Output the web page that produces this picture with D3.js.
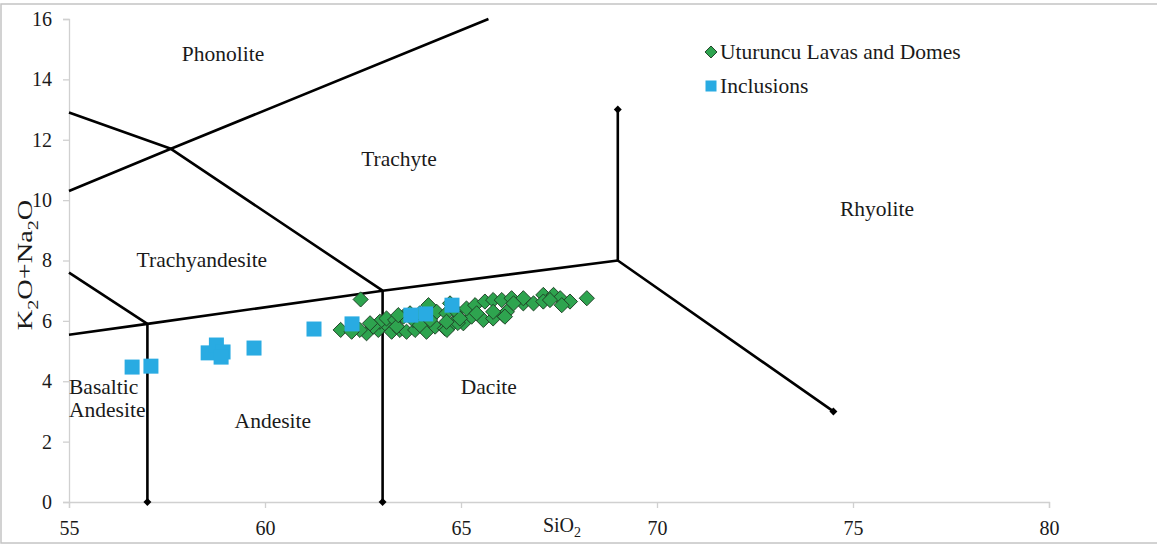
<!DOCTYPE html>
<html>
<head>
<meta charset="utf-8">
<script src="https://cdn.jsdelivr.net/npm/d3@7"></script>
<style>
  body { margin: 0; background: #fff; }
  svg text { font-family: "Liberation Serif", "Times New Roman", serif; fill: #1a1a1a; }
  .axis path, .axis line { stroke: #d0d0d0; stroke-width: 1.3; }
</style>
</head>
<body>
<div id="chart"></div>
<script>
// SiO2 vs K2O+Na2O, Uturuncu samples
var lavas = [
  [61.93, 5.70], [62.59, 5.59], [62.89, 5.70], [63.06, 5.92], [63.23, 5.64], [63.44, 5.70],
  [63.61, 5.64], [63.83, 5.70], [64.12, 5.64], [64.34, 5.81], [64.59, 5.75], [64.80, 5.92],
  [65.06, 5.92], [65.27, 6.14], [65.57, 6.03], [65.82, 6.08], [66.08, 6.19], [66.17, 6.30],
  [62.93, 5.97], [63.10, 6.08], [63.32, 6.03], [63.53, 6.14], [64.17, 6.52], [64.38, 6.30],
  [64.63, 6.25], [64.89, 6.30], [65.14, 6.41], [65.36, 6.52], [65.61, 6.64], [65.82, 6.69],
  [66.04, 6.69], [66.29, 6.75], [66.59, 6.58], [66.85, 6.58], [67.10, 6.86], [67.36, 6.86],
  [67.53, 6.75], [67.78, 6.64], [68.21, 6.75], [67.57, 6.52], [67.10, 6.64], [66.12, 6.14],
  [65.82, 6.30], [65.40, 6.25], [64.92, 5.93], [64.64, 5.70], [63.78, 6.03], [63.95, 5.86],
  [63.36, 5.81], [62.76, 5.81], [62.42, 5.70], [62.21, 5.64], [64.97, 6.08], [64.63, 5.97],
  [64.21, 6.03], [63.95, 6.25], [63.70, 6.25], [63.40, 6.19], [62.68, 5.92], [64.72, 6.58],
  [66.59, 6.75], [66.34, 6.58], [67.27, 6.69], [62.44, 6.71]
];
var inclusions = [
  [56.61, 4.47], [57.09, 4.50], [58.55, 4.94], [58.76, 5.20], [58.93, 4.97], [58.88, 4.80],
  [59.72, 5.10], [61.25, 5.73], [62.22, 5.90], [63.72, 6.19], [64.10, 6.23], [64.77, 6.52]
];

// TAS field boundaries
var tasLines = [
  [[55, 5.54], [57, 5.9], [63, 7], [69, 8]],
  [[57, 0], [57, 5.9]],
  [[63, 0], [63, 7]],
  [[69, 13], [69, 8], [74.5, 3]],
  [[55, 7.6], [57, 5.9]],
  [[55, 12.9], [57.6, 11.7], [63, 7]],
  [[55, 10.3], [57.6, 11.7], [65.7, 16]]
];
var tasEnds = [[57, 0], [63, 0], [69, 13], [74.5, 3]];

var fieldNames = ["Phonolite", "Trachyte", "Rhyolite", "Trachyandesite", "Basaltic", "Andesite", "Andesite", "Dacite"];
var fieldAt = [[58.93, 14.84], [63.42, 11.36], [75.61, 9.7], [58.39, 8.02], [55, 3.81], [55, 3.05], [60.2, 2.68], [65.71, 3.81]];

var xTicks = [55, 60, 65, 70, 75, 80];
var yTicks = [0, 2, 4, 6, 8, 10, 12, 14, 16];

var W = 1157, H = 548;
var margin = { top: 19, right: 108, bottom: 46, left: 69 },
    width = W - margin.left - margin.right,
    height = H - margin.top - margin.bottom;

var svg = d3.select("#chart").append("svg")
  .attr("width", W)
  .attr("height", H);

// outer frame
svg.append("rect")
  .attr("x", 1).attr("y", 4)
  .attr("width", W + 10).attr("height", 539)
  .attr("fill", "none").attr("stroke", "#c4c4c4").attr("stroke-width", 1.5);

var g = svg.append("g")
  .attr("transform", "translate(" + margin.left + "," + margin.top + ")");

var x = d3.scaleLinear().domain([55, 80]).range([0, width]);
var y = d3.scaleLinear().domain([0, 16]).range([height, 0]);

var xAxisG = g.append("g")
  .attr("class", "x axis")
  .attr("transform", "translate(0," + height + ")")
  .call(d3.axisBottom(x).tickValues(xTicks).tickSize(6).tickPadding(10));
xAxisG.selectAll("text").attr("dy", "0.85em");

var yAxisG = g.append("g")
  .attr("class", "y axis")
  .call(d3.axisLeft(y).tickValues(yTicks).tickSize(6).tickPadding(11));

[xAxisG, yAxisG].forEach(function (a) {
  a.attr("font-family", "Liberation Serif").attr("font-size", 20);
  a.selectAll("text")
    .attr("font-family", "Liberation Serif")
    .style("font-family", '"Liberation Serif", serif')
    .style("font-size", "20px")
    .attr("fill", "#1a1a1a");
});

// axis titles
svg.append("text")
  .attr("x", 562).attr("y", 532)
  .attr("text-anchor", "middle")
  .style("font-size", "20px")
  .html('SiO<tspan dy="5" font-size="14px">2</tspan>');

svg.append("text")
  .attr("transform", "translate(32,265) rotate(-90) scale(1.35,1)")
  .attr("text-anchor", "middle")
  .style("font-size", "21px")
  .html('K<tspan dy="6" font-size="15px">2</tspan><tspan dy="-6">O+Na</tspan><tspan dy="6" font-size="15px">2</tspan><tspan dy="-6">O</tspan>');

// field boundaries
var line = d3.line().x(function (d) { return x(d[0]); }).y(function (d) { return y(d[1]); });

g.selectAll(".tas")
  .data(tasLines)
  .enter().append("path")
  .attr("class", "tas")
  .attr("d", line)
  .attr("fill", "none")
  .attr("stroke", "#000")
  .attr("stroke-width", 2.6)
  .attr("stroke-linejoin", "round");

g.selectAll(".tasEnd")
  .data(tasEnds)
  .enter().append("path")
  .attr("class", "tasEnd")
  .attr("d", d3.symbol(d3.symbolDiamond2, 40))
  .attr("transform", function (d) { return "translate(" + x(d[0]) + "," + y(d[1]) + ")"; })
  .attr("fill", "#000");

// field names
g.selectAll(".field")
  .data(fieldNames)
  .enter().append("text")
  .attr("class", "field")
  .attr("x", function (d, i) { return x(fieldAt[i][0]); })
  .attr("y", function (d, i) { return y(fieldAt[i][1]) + 7; })
  .attr("text-anchor", function (d, i) { return fieldAt[i][0] <= 55 ? "start" : "middle"; })
  .style("font-size", "21.5px")
  .text(function (d) { return d; });

// samples
g.selectAll(".lava")
  .data(lavas)
  .enter().append("path")
  .attr("class", "lava")
  .attr("d", d3.symbol(d3.symbolSquare, 115))
  .attr("transform", function (d) { return "translate(" + x(d[0]) + "," + y(d[1]) + ") rotate(45)"; })
  .attr("fill", "#2ea44f")
  .attr("stroke", "#1f3f26")
  .attr("stroke-width", 0.9);

g.selectAll(".incl")
  .data(inclusions)
  .enter().append("rect")
  .attr("class", "incl")
  .attr("x", function (d) { return x(d[0]) - 7.5; })
  .attr("y", function (d) { return y(d[1]) - 7.5; })
  .attr("width", 15).attr("height", 15)
  .attr("fill", "#29abe2");

// legend
var legend = svg.append("g").attr("transform", "translate(711,52)");
legend.append("path")
  .attr("d", d3.symbol(d3.symbolSquare, 72))
  .attr("transform", "rotate(45)")
  .attr("fill", "#2ea44f").attr("stroke", "#1f3f26").attr("stroke-width", 0.9);
legend.append("text").attr("x", 9).attr("y", 7).style("font-size", "21.5px").text("Uturuncu Lavas and Domes");
legend.append("rect").attr("x", -5.5).attr("y", 28.5).attr("width", 11).attr("height", 11).attr("fill", "#29abe2");
legend.append("text").attr("x", 9).attr("y", 41).style("font-size", "21.5px").text("Inclusions");
</script>
</body>
</html>
